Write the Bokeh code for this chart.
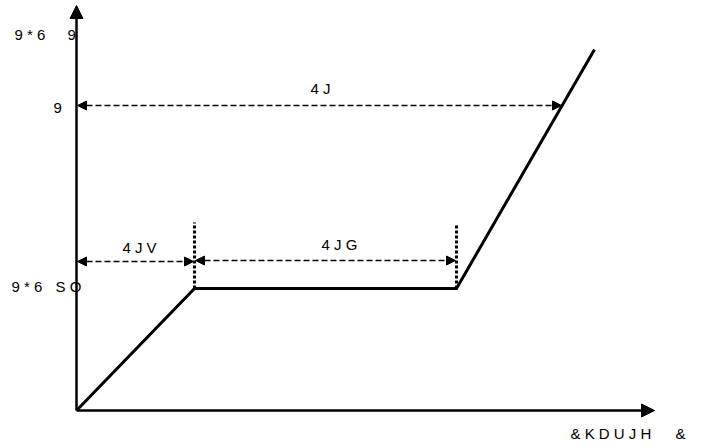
from bokeh.plotting import figure
from bokeh.models import Range1d, Arrow, NormalHead, ColumnDataSource
from bokeh.core.properties import value
from bokeh.embed import file_html
from bokeh.resources import INLINE

# piecewise characteristic (data units)
t_pts = [0, 118, 380, 518]
v_pts = [0, 122, 122, 361]

# dimension arrows: (x_start, x_end, y)
dim_x0 = [1, 1, 119]
dim_x1 = [485, 117, 379]
dim_y = [305, 149, 150]

# dotted markers at breakpoints
mark_x = [118, 380]
mark_y0 = [122, 122]
mark_y1 = [188, 185]

# axis extents
x_axis_end = 578
y_axis_end = 405

# labels
lab_text = ["9 * 6", "9", "9", "9 * 6", "S O", "4 J", "4 J V", "4 J G", "& K D U J H", "&"]
lab_x = [-62, -9, -23, -65, -21, 244, 63, 263, 494, 599]
lab_y = [376, 376, 303, 124, 124, 322, 163, 166, -23, -23]
lab_align = ["left", "left", "left", "left", "left", "center", "center", "center", "left", "left"]

p = figure(width=700, height=446, output_backend="svg", toolbar_location=None,
           x_range=Range1d(-76, 624), y_range=Range1d(-36, 410), min_border=0)
p.axis.visible = False
p.grid.visible = False
p.outline_line_color = None

font = value("Liberation Sans")

# axes with arrow heads
p.add_layout(Arrow(end=NormalHead(size=13, fill_color="black", line_color="black"),
                   x_start=0, y_start=0, x_end=0, y_end=y_axis_end,
                   line_width=2.5, line_color="black"))
p.add_layout(Arrow(end=NormalHead(size=13, fill_color="black", line_color="black"),
                   x_start=0, y_start=0, x_end=x_axis_end, y_end=0,
                   line_width=2.5, line_color="black"))

# characteristic line
p.line(t_pts, v_pts, line_width=3, line_color="black", line_join="miter")

# dotted verticals
p.segment(x0=mark_x, y0=mark_y0, x1=mark_x, y1=mark_y1, line_width=3,
          line_color="black", line_dash="3 2")

# dashed dimension arrows
for x0, x1, y in zip(dim_x0, dim_x1, dim_y):
    p.add_layout(Arrow(start=NormalHead(size=9, fill_color="black", line_color="black", line_width=1),
                       end=NormalHead(size=9, fill_color="black", line_color="black", line_width=1),
                       x_start=x0, y_start=y, x_end=x1, y_end=y,
                       line_width=1.5, line_color="black", line_dash="6 3"))

src = ColumnDataSource(dict(x=lab_x, y=lab_y, text=lab_text, align=lab_align))
p.text(x="x", y="y", text="text", text_align="align", text_baseline="middle",
       text_font=font, text_font_size="15px", text_color="black", source=src)

open("out.html", "w").write(file_html(p, INLINE))
